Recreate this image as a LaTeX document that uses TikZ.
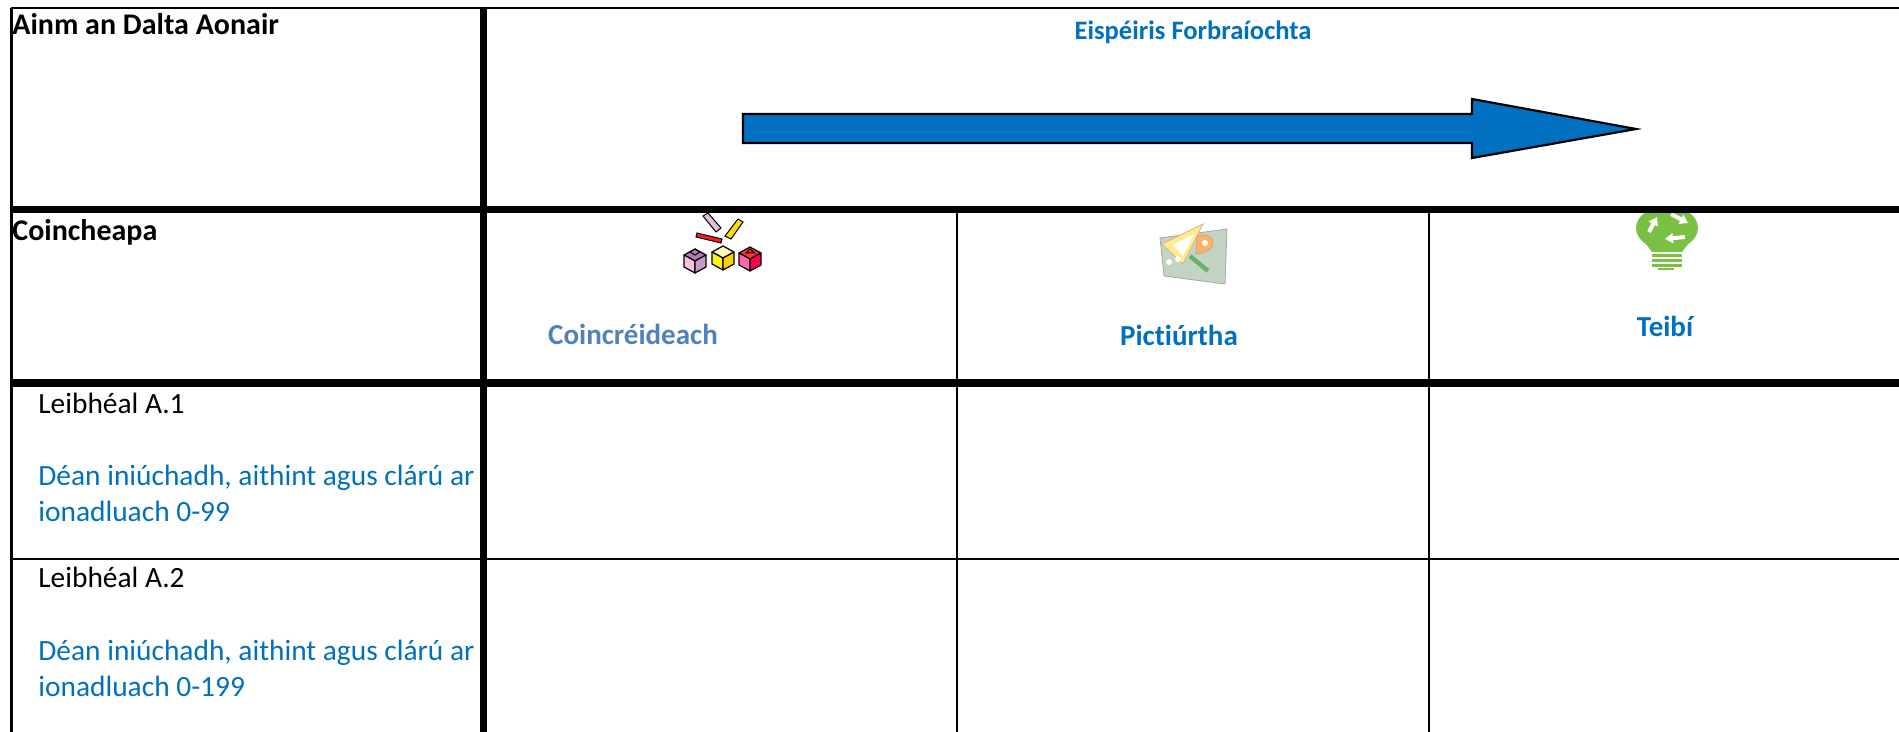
\documentclass[tikz,border=0pt]{standalone}
\usepackage{fontspec}
\setmainfont{Carlito}[Ligatures=NoCommon]
\usetikzlibrary{positioning,calc,arrows.meta}
\definecolor{devblue}{HTML}{0070C0}
\definecolor{stageblue}{HTML}{4F81BD}
\definecolor{bulbgreen}{HTML}{7AC143}
\tikzset{
  thickrule/.style={line width=3.9pt},
  thinrule/.style={line width=1.1pt},
  hdr/.style={font=\fontsize{14.5}{18}\selectfont\bfseries, inner sep=0pt},
  rowhdr/.style={font=\fontsize{15}{18}\selectfont\bfseries, inner sep=0pt, anchor=base west},
  body/.style={font=\fontsize{14.7}{18}\selectfont, inner sep=0pt, anchor=base west},
  stage/.style={hdr, anchor=base},
  recycle/.style={white, line width=2pt, -{Triangle[length=4pt,width=5pt]}}
}
\newcommand{\blockcube}[5]{%
  \begin{scope}[shift={(#1,#2)}, line width=0.6pt, line join=round]
    \filldraw[fill=#3] (0,-12) -- (11,-6) -- (0,0) -- (-11,-6) -- cycle;
    \filldraw[fill=#4] (-11,-6) -- (0,0) -- (0,12) -- (-11,6) -- cycle;
    \filldraw[fill=#5] (0,0) -- (11,-6) -- (11,6) -- (0,12) -- cycle;
  \end{scope}}

\begin{document}
\begin{tikzpicture}[x=0.5pt,y=-0.5pt]
    \useasboundingbox (0,0) rectangle (1899,732);
    % blocks
    \filldraw[fill=red!90, line width=0.5pt] (697,233) -- (722,239) -- (721,243) -- (696,237) -- cycle;
    \filldraw[fill=violet!25, line width=0.5pt] (703,216) -- (708,213) -- (721,228) -- (716,232) -- cycle;
    \filldraw[fill=yellow!80!orange, line width=0.5pt] (738,219) -- (743,222) -- (731,239) -- (725,236) -- cycle;
    \blockcube{695}{261}{violet!55}{magenta!25}{violet!40}
    \blockcube{723}{258}{yellow!30}{yellow!90}{yellow!70!orange}
    \blockcube{750}{259}{red!80}{red!55!magenta!60}{red!70!magenta}
    \draw[line width=0.5pt] (695,249) -- (700,252) -- (695,255) -- (690,252) -- cycle;
    \draw[line width=0.5pt] (750,249) -- (755,253) -- (746,253) -- cycle;
    % drawing set
    \filldraw[fill=green!15!gray!40, draw=gray!70] (1160,238) -- (1227,229) -- (1225,284) -- (1164,276) -- cycle;
    \filldraw[fill=orange!35!yellow!45, draw=brown!60] (1162,244) -- (1203,224) -- (1183,264) -- cycle;
    \fill[white] (1172,245) -- (1194,234) -- (1183,256) -- cycle;
    \filldraw[fill=orange!60, draw=brown!70] (1196,254) -- (1197,236) .. controls (1213,230) and (1224,250) .. (1196,254) -- cycle;
    \fill[white] (1205,243) circle [radius=3];
    \draw[green!50!black!60, line width=2.2pt] (1190,256) -- (1208,271);
    \fill[white] (1169,262) circle [radius=3] (1178,259) circle [radius=3];
    % bulb
    \fill[bulbgreen] (1667,228) ellipse [x radius=31, y radius=22];
    \fill[bulbgreen] (1640,236) -- (1694,236) -- (1682,252) -- (1652,252) -- cycle;
    \foreach \yy in {254,259,264}
        \fill[bulbgreen] (1652,\yy) rectangle (1682,\yy+3.5);
    \fill[bulbgreen] (1658,268) rectangle (1674,270);
    \draw[recycle] (1649,232) -- (1657,217);
    \draw[recycle] (1671,214) -- (1688,223);
    \draw[recycle] (1685,237) -- (1665,239);
    % table
    \draw[line width=1.3pt] (11,8) -- (1899,8);
    \draw[thinrule] (11.5,8) -- (11.5,732);
    \draw[thickrule] (483.5,8) -- (483.5,732);
    \draw[thickrule] (11,209.5) -- (1899,209.5);
    \draw[thickrule] (11,383) -- (1899,383);
    \draw[thinrule] (11,559) -- (1899,559);
    \draw[thinrule] (957,209) -- (957,732);
    \draw[thinrule] (1429,209) -- (1429,732);
    % arrow
    \filldraw[fill=devblue, line width=1.1pt] (743,114) -- (1472,114) -- (1472,99) -- (1636,129) -- (1472,158) -- (1472,143) -- (743,143) -- cycle;
    \node[rowhdr] (pupil) at (12,35) {Ainm an Dalta Aonair};
    \node[rowhdr] (concepts) at (12,241) {Coincheapa};
    \node[stage, font=\fontsize{13.3}{16}\selectfont\bfseries, text=devblue] (devexp) at (1193,40) {Eispéiris Forbraíochta};
    \node[stage, text=stageblue] (concrete) at (633,345) {Coincréideach};
    \node[stage, text=devblue] (pictorial) at (1179,346) {Pictiúrtha};
    \node[stage, text=devblue] (abstract) at (1665,337) {Teibí};
    \node[body] (lvlA1) at (38,414) {Leibhéal A.1};
    \node[body, text=devblue] (lvlA1aim) at (38,485) {Déan iniúchadh, aithint agus clárú ar};
    \node[body, text=devblue] (lvlA1rng) at (38,521) {ionadluach 0-99};
    \node[body] (lvlA2) at (38,587) {Leibhéal A.2};
    \node[body, text=devblue] (lvlA2aim) at (38,660) {Déan iniúchadh, aithint agus clárú ar};
    \node[body, text=devblue] (lvlA2rng) at (38,696) {ionadluach 0-199};
\end{tikzpicture}
\end{document}
